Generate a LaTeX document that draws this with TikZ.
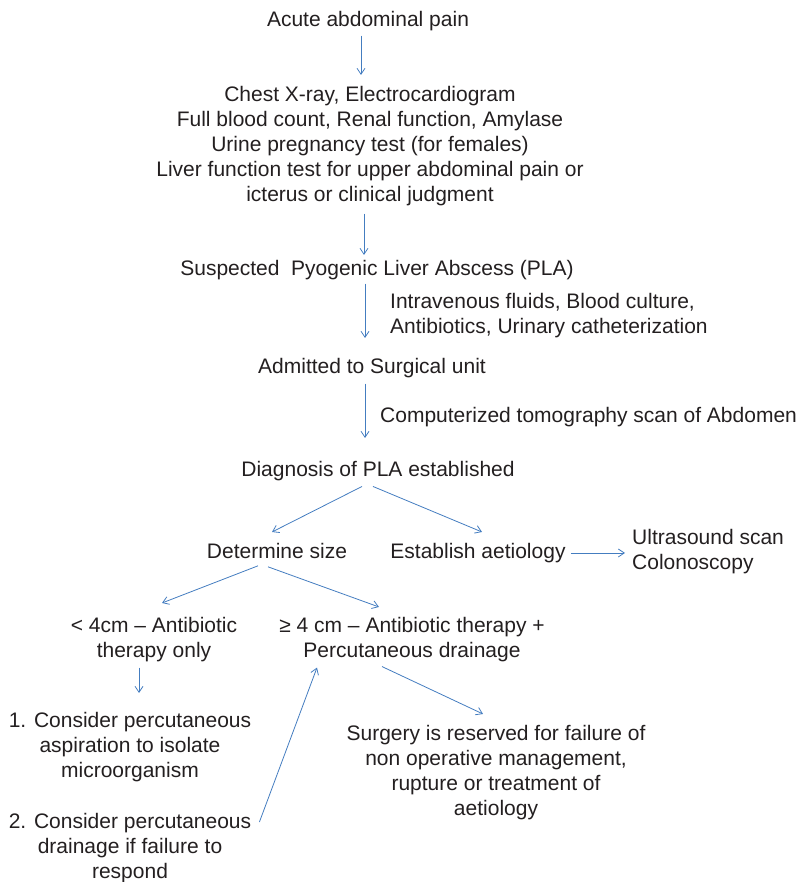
\documentclass[tikz,border=0pt]{standalone}
\usepackage{fontspec}
\setmainfont{Liberation Sans}
\usetikzlibrary{arrows.meta}

\definecolor{flowblue}{RGB}{68,125,192}
\definecolor{inkgray}{RGB}{35,31,32}

\begin{document}
\begin{tikzpicture}[x=1pt, y=1pt]

\tikzset{txt/.style = {inner sep=0pt, anchor=north, align=center, text=inkgray,
                       font=\fontsize{21}{25}\selectfont}}
\tikzset{txtleft/.style = {txt, anchor=north west, align=left}}
\tikzset{flow/.style = {draw=flowblue, line width=0.8pt,
                        -{Straight Barb[length=6pt,width=8pt]}}}

\useasboundingbox (0,0) rectangle (805,882);

% main column
\node[txt] (acute) at (368,871.3) {Acute abdominal pain};
\node[txt] (tests) at (370,796) {Chest X-ray, Electrocardiogram\\Full blood count, Renal function, Amylase\\Urine pregnancy test (for females)\\Liver function test for upper abdominal pain or\\icterus or clinical judgment};
\node[txt] (suspected) at (377,622) {Suspected~ Pyogenic Liver Abscess (PLA)};
\node[txtleft] (ivcare) at (390,589) {Intravenous fluids, Blood culture,\\Antibiotics, Urinary catheterization};
\node[txt] (admitted) at (372,524) {Admitted to Surgical unit};
\node[txtleft] (ctscan) at (380,475) {Computerized tomography scan of Abdomen};
\node[txt] (diagnosis) at (378,420.5) {Diagnosis of PLA established};

% branches
\node[txt] (size) at (277,339) {Determine size};
\node[txt] (aetiology) at (478,339) {Establish aetiology};
\node[txtleft] (usscan) at (632,353) {Ultrasound scan\\Colonoscopy};
\node[txt] (small) at (154,265) {< 4cm – Antibiotic\\therapy only};
\node[txt] (large) at (412,265) {≥ 4 cm – Antibiotic therapy +\\Percutaneous drainage};
\node[txt] (aspirate) at (130,170) {1. Consider percutaneous\\aspiration to isolate\\microorganism};
\node[txt] (drain) at (130,69) {2. Consider percutaneous\\drainage if failure to\\respond};
\node[txt] (surgery) at (496,157) {Surgery is reserved for failure of\\non operative management,\\rupture or treatment of\\aetiology};

% arrows down the column
\draw[flow, shorten <=5pt, shorten >=11pt] ([xshift=-7pt]acute.south) -- ([xshift=-9pt]tests.north);
\draw[flow, shorten <=7.6pt, shorten >=5pt] ([xshift=-6pt]tests.south) -- ([xshift=-13pt]suspected.north);
\draw[flow, shorten <=3.6pt, shorten >=20pt] ([xshift=-12pt]suspected.south) -- ([xshift=-7pt]admitted.north);
\draw[flow, shorten <=5.6pt, shorten >=23.5pt] ([xshift=-7pt]admitted.south) -- ([xshift=-13pt]diagnosis.north);

% arrows of the branches
\draw[flow] ([xshift=-16pt,yshift=-5pt]diagnosis.south) -- ([xshift=-5pt,yshift=11pt]size.north);
\draw[flow] ([xshift=-5pt,yshift=-5pt]diagnosis.south) -- ([xshift=4pt,yshift=11pt]aetiology.north);
\draw[flow, shorten <=5pt, shorten >=7pt] (aetiology.east) -- (aetiology.east -| usscan.west);
\draw[flow] ([xshift=-19pt,yshift=-7pt]size.south) -- ([xshift=8pt,yshift=14pt]small.north);
\draw[flow] ([xshift=-9pt,yshift=-8pt]size.south) -- ([xshift=-33pt,yshift=10pt]large.north);
\draw[flow, shorten <=5.6pt, shorten >=19pt] ([xshift=-15pt]small.south) -- ([xshift=9pt]aspirate.north);
\draw[flow] ([xshift=8pt,yshift=-9pt]drain.north east) -- ([xshift=-95pt,yshift=-5.6pt]large.south);
\draw[flow] ([xshift=-30pt,yshift=-4.6pt]large.south) -- ([xshift=-13pt,yshift=11pt]surgery.north);

\end{tikzpicture}
\end{document}
